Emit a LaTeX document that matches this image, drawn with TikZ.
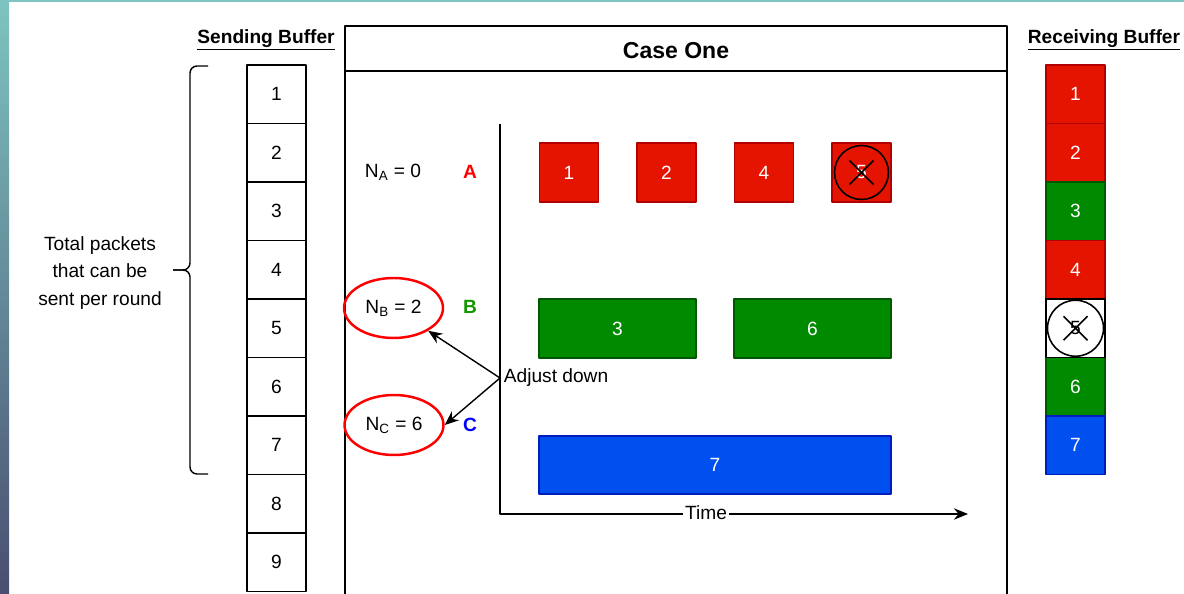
\documentclass[tikz,border=0pt]{standalone}
\usepackage{fontspec}
\setmainfont{Liberation Sans}
\usetikzlibrary{arrows.meta,shapes.geometric}
\definecolor{pktred}{HTML}{E51400}
\definecolor{pktredline}{HTML}{B20000}
\definecolor{pktgreen}{HTML}{008A00}
\definecolor{pktgreenline}{HTML}{005700}
\definecolor{pktblue}{HTML}{0050EF}
\definecolor{pktblueline}{HTML}{001DBC}
\definecolor{slidetop}{RGB}{126,196,192}
\definecolor{slidebot}{RGB}{74,78,112}
\tikzset{
	cell/.style={draw, line width=0.8pt, minimum width=1.18cm, minimum height=1.17cm, inner sep=0pt},
	redbox/.style={cell, fill=pktred, draw=pktredline, text=white},
	greenbox/.style={cell, fill=pktgreen, draw=pktgreenline, text=white},
	bluebox/.style={cell, fill=pktblue, draw=pktblueline, text=white},
	lost/.style={circle, draw=black, line width=0.9pt, minimum size=1.08cm, inner sep=0pt},
	counter/.style={ellipse, draw=red, line width=1.4pt, minimum width=1.98cm, minimum height=1.2cm, inner sep=0pt},
	heading/.style={font=\fontsize{10.9}{13}\selectfont\bfseries}
}
\begin{document}
\begin{tikzpicture}[x=0.02cm, y=-0.02cm, >={Stealth[length=8pt,width=6.5pt]}, line join=round, font=\fontsize{10.9}{13}\selectfont]
	\useasboundingbox (0,0) rectangle (1184,594);
	% slide edge
	\shade[top color=slidetop, bottom color=slidebot] (0,0) rectangle (9,594);
	\fill[slidetop] (0,0) rectangle (1184,2);
	
	% sending buffer
	\node[heading] (sendhead) at (266,40) {\underline{Sending Buffer}};
	\foreach \i in {1,...,9}
		\node[cell] (s\i) at (276.5,{65+58.5*(\i-0.5)}) {\i};
	\draw[line width=0.8pt, rounded corners=4pt] (208,66) -| (190,270) -- (173,270);
	\draw[line width=0.8pt, rounded corners=4pt] (173,270) -- (190,270) |- (208,474);
	\node[align=center, font=\fontsize{10.9}{15.9}\selectfont] (total) at (100,273) {Total packets\\that can be\\sent per round};
	
	% case frame
	\draw[line width=0.8pt] (345,26) rectangle (1007,600);
	\draw[line width=0.8pt] (345,71) -- (1007,71);
	\node[font=\fontsize{13.1}{15}\selectfont\bfseries] (casetitle) at (676,51) {Case One};
	
	% time axis
	\coordinate (ytop) at (500,124);
	\coordinate (origin) at (500,514);
	\coordinate (tend) at (968,514);
	\draw[->, line width=0.8pt] (ytop) -- (origin) -- (tend);
	\node[fill=white, inner sep=1pt] (time) at (706,513) {Time};
	
	% senders
	\node (NA) at (393,172) {N\textsubscript{A} = 0};
	\node[counter] (NB) at (393.5,308) {N\textsubscript{B} = 2};
	\node[counter] (NC) at (394,425) {N\textsubscript{C} = 6};
	\node[text=red] (rowA) at (470,172) {\textbf{A}};
	\node[text=pktgreen!90!lime] (rowB) at (470,307) {\textbf{B}};
	\node[text=blue] (rowC) at (470,425) {\textbf{C}};
	
	\coordinate (adj) at (500,378);
	\node[right, inner sep=2pt] (adjlabel) at (adj) {Adjust down};
	\draw[->, line width=0.8pt] (adj) -- (NB);
	\draw[->, line width=0.8pt] (adj) -- (NC.east);
	
	% packets on the time line
	\foreach \i/\x in {1/569,2/666.5,4/764,5/861.5}
		\node[redbox, minimum height=1.18cm] (a\i) at (\x,172.5) {\i};
	\node[greenbox, minimum width=3.14cm, minimum height=1.18cm] (b3) at (617.5,328.5) {3};
	\node[greenbox, minimum width=3.14cm, minimum height=1.18cm] (b6) at (812.5,328.5) {6};
	\node[bluebox, minimum width=7.04cm, minimum height=1.16cm] (c7) at (715,465) {7};
	\node[lost] (lostA) at (a5) {};
	\draw[line width=0.9pt] (lostA.center) ++(-12,-12) -- ++(24,24) (lostA.center) ++(-12,12) -- ++(24,-24);
	
	% receiving buffer
	\node[heading] (recvhead) at (1104,40) {\underline{Receiving Buffer}};
	\foreach \i/\s in {1/redbox,2/redbox,3/greenbox,4/redbox,6/greenbox,7/bluebox}
		\node[\s] (r\i) at (1075.5,{65+58.5*(\i-0.5)}) {\i};
	\node[cell] (r5) at (1075.5,{65+58.5*4.5}) {5};
	\node[lost, minimum size=1.12cm] (lostR) at (r5) {};
	\draw[line width=0.9pt] (lostR.center) ++(-12,-12) -- ++(24,24) (lostR.center) ++(-12,12) -- ++(24,-24);
\end{tikzpicture}
\end{document}
